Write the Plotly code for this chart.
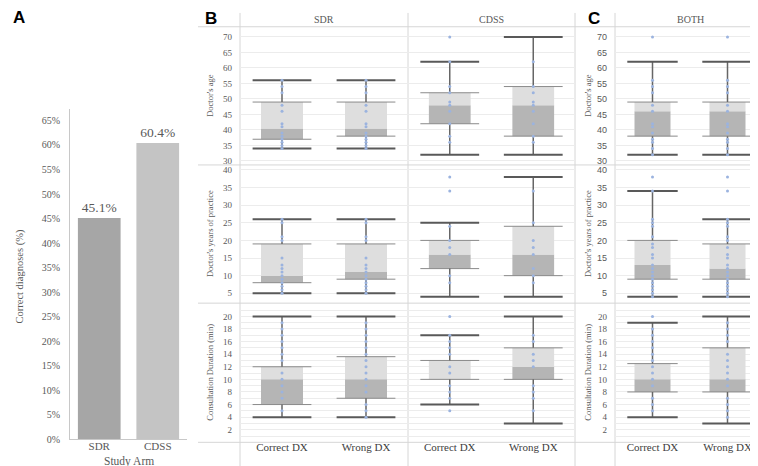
import plotly.graph_objects as go

W, H = 758, 466

# ---------------- data ----------------
arms = ["SDR", "CDSS", "BOTH"]
groups = ["Correct DX", "Wrong DX"]
metrics = ["Doctor's age", "Doctor's years of practice", "Consultation Duration (min)"]

bar_arms = ["SDR", "CDSS"]
bar_pct = [45.1, 60.4]
bar_labels = ["45.1%", "60.4%"]
bar_ticks = list(range(0, 70, 5))

# per arm [SDR, CDSS, BOTH] -> per group [Correct DX, Wrong DX]
age_lo = [[34, 34], [32, 32], [32, 32]]
age_q1 = [[37, 38], [42, 38], [38, 38]]
age_med = [[40.5, 40.5], [48, 48], [46, 46]]
age_q3 = [[49, 49], [52, 54], [49, 49]]
age_hi = [[56, 56], [62, 70], [62, 62]]
age_pts = [
    [[56, 54, 52, 48, 46, 42, 41, 39, 38, 37, 36, 35, 34],
     [56, 54, 52, 48, 46, 42, 41, 39, 38, 37, 36, 35, 34]],
    [[70, 62, 54, 52, 49, 48, 46, 42, 38, 36],
     [62, 54, 52, 49, 48, 46, 42, 38, 36]],
    [[70, 56, 54, 52, 48, 46, 42, 41, 39, 37, 36, 34, 32],
     [70, 56, 54, 52, 48, 46, 42, 41, 39, 37, 36, 34, 32]],
]

yrs_lo = [[5, 5], [4, 4], [4, 4]]
yrs_q1 = [[8, 9], [12, 10], [9, 9]]
yrs_med = [[10, 11], [16, 16], [13, 12]]
yrs_q3 = [[19, 19], [20, 24], [20, 19]]
yrs_hi = [[26, 26], [25, 38], [34, 26]]
yrs_pts = [
    [[26, 25, 21, 20, 15, 13, 12, 11, 10, 9, 8, 7, 6, 5],
     [26, 25, 21, 20, 15, 13, 12, 11, 10, 9, 8, 7, 6, 5]],
    [[38, 34, 24, 20, 18, 16, 10, 8],
     [34, 25, 20, 18, 16, 12, 10, 8]],
    [[38, 34, 26, 25, 24, 21, 19, 18, 16, 15, 13, 12, 11, 10, 9, 8, 7, 6, 5, 4],
     [38, 34, 26, 25, 24, 21, 20, 18, 16, 15, 13, 12, 11, 10, 9, 8, 7, 6, 5, 4]],
]

dur_lo = [[4, 4], [6, 3], [4, 3]]
dur_q1 = [[6, 7], [10, 10], [8, 8]]
dur_med = [[10, 10], [10, 12], [10, 10]]
dur_q3 = [[12, 13.6], [13, 15], [12.5, 15]]
dur_hi = [[20, 20], [17, 20], [19, 20]]
dur_pts = [
    [[19, 18, 17, 16, 15, 14, 13, 11, 10, 9, 8, 7, 5],
     [19, 18, 17, 16, 15, 14, 13, 12, 11, 10, 9, 8, 6, 5, 4]],
    [[20, 17, 16, 15, 14, 12, 11, 9, 8, 7, 5],
     [17, 16, 14, 13, 12, 9, 8, 7, 5]],
    [[20, 18, 17, 16, 15, 14, 13, 12, 11, 10, 9, 7, 6, 5],
     [19, 18, 17, 16, 14, 13, 12, 11, 10, 9, 7, 6, 5, 4]],
]

stats = [
    (age_lo, age_q1, age_med, age_q3, age_hi, age_pts),
    (yrs_lo, yrs_q1, yrs_med, yrs_q3, yrs_hi, yrs_pts),
    (dur_lo, dur_q1, dur_med, dur_q3, dur_hi, dur_pts),
]

# ---------------- layout helpers ----------------
SERIF = "Liberation Serif"
SANS = "Liberation Sans"
GRAY = "#595959"


def fx(px):
    return px / W


def fy(py):
    return 1 - py / H


col_px = [(232, 400), (400, 567), (607, 757)]
row_px = [(19, 159), (159, 299), (299, 440)]
row_ranges = [[28.7, 73.3], [2.2, 41.4], [0, 22.1]]
row_tickvals = [list(range(30, 75, 5)), list(range(5, 45, 5)), list(range(1, 22))]
row_ticktext = [[str(v) for v in row_tickvals[0]],
                [str(v) for v in row_tickvals[1]],
                [str(v) if v % 2 == 0 else "" for v in row_tickvals[2]]]
box_w = [0.5, 0.5, 0.48]
cap_px = [42, 42, 36]

fig = go.Figure()

# ---------------- panel A ----------------
fig.add_trace(go.Bar(
    x=bar_arms, y=bar_pct, width=0.73,
    marker=dict(color=["#a6a6a6", "#c4c4c4"], line=dict(width=0)),
    text=bar_labels, textposition="outside", cliponaxis=False,
    textfont=dict(family=SERIF, size=13.5, color=GRAY),
    xaxis="x", yaxis="y", showlegend=False, hoverinfo="skip",
))

layout = dict(
    width=W, height=H,
    margin=dict(l=0, r=0, t=0, b=0),
    paper_bgcolor="white", plot_bgcolor="rgba(0,0,0,0)",
    barmode="overlay", showlegend=False,
    xaxis=dict(domain=[fx(62), fx(179)], showgrid=False, zeroline=False,
               showline=True, linecolor="#c8c8c8", linewidth=1,
               tickfont=dict(family=SERIF, size=11, color=GRAY),
               ticks="", ticklen=0, ticklabelstandoff=-4, anchor="y"),
    yaxis=dict(domain=[fy(437), fy(102)], range=[0, 67.4], showgrid=False,
               zeroline=False, showline=True, linecolor="#c8c8c8", linewidth=1,
               tickvals=bar_ticks, ticktext=[f"{v}%" for v in bar_ticks],
               tickfont=dict(family=SERIF, size=10, color=GRAY),
               ticks="", ticklen=0, ticklabelstandoff=7, anchor="x"),
)

# ---------------- panels B & C ----------------
for r in range(3):
    lo, q1, med, q3, hi, pts = stats[r]
    for c in range(3):
        k = 2 + r * 3 + c
        xa, ya = f"x{k}", f"y{k}"
        gx = [0, 1]
        fig.add_trace(go.Bar(
            x=gx, y=[med[c][g] - q1[c][g] for g in gx], base=q1[c],
            width=box_w[c], marker=dict(color="#b5b5b5", line=dict(width=0)),
            xaxis=xa, yaxis=ya, hoverinfo="skip"))
        fig.add_trace(go.Bar(
            x=gx, y=[q3[c][g] - med[c][g] for g in gx], base=med[c],
            width=box_w[c], marker=dict(color="#dedede", line=dict(width=0)),
            xaxis=xa, yaxis=ya, hoverinfo="skip"))
        # box edges (Q1, Q3)
        fig.add_trace(go.Scatter(
            x=gx + gx, y=q1[c] + q3[c], mode="markers",
            marker=dict(symbol="line-ew", size=cap_px[c],
                        line=dict(width=1, color="#8a8a8a")),
            xaxis=xa, yaxis=ya, hoverinfo="skip"))
        # whisker stems
        sx, sy = [], []
        for g in gx:
            sx += [g, g, None, g, g, None]
            sy += [q3[c][g], hi[c][g], None, q1[c][g], lo[c][g], None]
        fig.add_trace(go.Scatter(
            x=sx, y=sy, mode="lines", line=dict(color="#666666", width=1.5),
            xaxis=xa, yaxis=ya, hoverinfo="skip"))
        # whisker caps
        fig.add_trace(go.Scatter(
            x=gx + gx, y=hi[c] + lo[c], mode="markers",
            marker=dict(symbol="line-ew", size=cap_px[c],
                        line=dict(width=2, color="#595959")),
            xaxis=xa, yaxis=ya, hoverinfo="skip"))
        # data points
        dx, dy = [], []
        for g in gx:
            dx += [g] * len(pts[c][g])
            dy += pts[c][g]
        fig.add_trace(go.Scatter(
            x=dx, y=dy, mode="markers",
            marker=dict(size=3, color="#9bb3df"),
            xaxis=xa, yaxis=ya, hoverinfo="skip"))

        tick_font_family = SANS if (c == 2 and r < 2) else SERIF
        layout[f"xaxis{k}"] = dict(
            domain=[fx(col_px[c][0]), fx(col_px[c][1])], range=[-0.5, 1.5],
            showgrid=False, zeroline=False, showline=False, ticks="", ticklen=0,
            tickvals=[0, 1], ticktext=groups, showticklabels=(r == 2),
            tickfont=dict(family=SERIF, size=11, color="#404040"),
            ticklabelstandoff=-3, anchor=ya)
        layout[f"yaxis{k}"] = dict(
            domain=[fy(row_px[r][1]), fy(row_px[r][0])], range=row_ranges[r],
            showgrid=True, gridcolor="#ececec", gridwidth=1, zeroline=False,
            showline=False, ticks="", ticklen=0, tickvals=row_tickvals[r],
            ticktext=row_ticktext[r], showticklabels=(c != 1),
            tickfont=dict(family=tick_font_family, size=9, color=GRAY),
            ticklabelstandoff=7, anchor=xa)

# ---------------- grid separators ----------------
shapes = []
for py in [19, 159, 299, 440]:
    shapes.append(dict(type="line", xref="paper", yref="paper",
                       x0=fx(190), x1=1, y0=fy(py), y1=fy(py),
                       line=dict(color="#d6d6d6", width=1), layer="below"))
for px in [232, 400, 567, 607]:
    shapes.append(dict(type="line", xref="paper", yref="paper",
                       x0=fx(px), x1=fx(px), y0=fy(5), y1=0,
                       line=dict(color="#d6d6d6", width=1), layer="below"))
layout["shapes"] = shapes

# ---------------- text annotations ----------------
ann = []


def add_text(text, x, y, size, family=SERIF, color=GRAY, angle=0, bold=False):
    ann.append(dict(text=f"<b>{text}</b>" if bold else text, x=fx(x), y=fy(y),
                    xref="paper", yref="paper", showarrow=False,
                    textangle=angle, xanchor="center", yanchor="middle",
                    font=dict(family=family, size=size, color=color)))


add_text("A", 11, 10, 17, family=SANS, color="#000000", bold=True)
add_text("B", 203, 11, 17, family=SANS, color="#000000", bold=True)
add_text("C", 586, 11, 17, family=SANS, color="#000000", bold=True)
add_text("Correct diagnoses (%)", 12, 272, 10.5, angle=-90)
add_text("Study Arm", 121, 459, 11.5)
for c, arm in enumerate(arms):
    add_text(arm, (col_px[c][0] + col_px[c][1]) / 2, 12, 10)
for r, m in enumerate(metrics):
    yc = (row_px[r][0] + row_px[r][1]) / 2
    add_text(m, 202, yc, 8.5, angle=-90)
    add_text(m, 580, yc, 8.5, angle=-90)
layout["annotations"] = ann

fig.update_layout(**layout)
fig.write_html("out.html")
